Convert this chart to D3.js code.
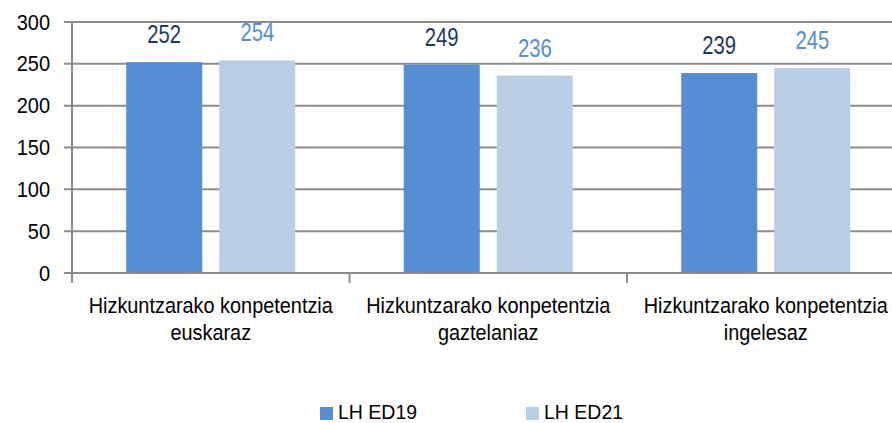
<!DOCTYPE html>
<html>
<head>
<meta charset="utf-8">
<script src="https://cdn.jsdelivr.net/npm/d3@7"></script>
<style>
  html, body { margin: 0; padding: 0; background: #fff; }
  svg { display: block; font-family: "Liberation Sans", Arial, sans-serif; }
</style>
</head>
<body>
<svg id="chart" width="892" height="423"></svg>
<script>
// Competence scores by language, two survey editions
const categories = [
  ["Hizkuntzarako konpetentzia", "euskaraz"],
  ["Hizkuntzarako konpetentzia", "gaztelaniaz"],
  ["Hizkuntzarako konpetentzia", "ingelesaz"]
];
const seriesNames = ["LH ED19", "LH ED21"];
const ed19 = [252, 249, 239];
const ed21 = [254, 236, 245];
const yTicks = [0, 50, 100, 150, 200, 250, 300];

const barColors = ["#558ed5", "#b9cde5"];
const labelColors = ["#1f3864", "#558ed5"];
const gridColor = "#8c8c8c";

const svg = d3.select("#chart");
const W = 892;

const plotLeft = 72, plotBottom = 273, plotTop = 22;
const bandW = 277.5;
const catIdx = categories.map((d, i) => i);

const x = d3.scaleBand().domain(catIdx).range([plotLeft, plotLeft + bandW * categories.length]).padding(0);
const xs = d3.scaleBand().domain(seriesNames).range([0, x.bandwidth()])
  .paddingInner(0.183).paddingOuter(0.583);
const y = d3.scaleLinear().domain([0, 300]).range([plotBottom, plotTop]);

// horizontal gridlines with left tick stubs
svg.append("g").selectAll("line").data(yTicks).join("line")
  .attr("x1", plotLeft - 8).attr("x2", W)
  .attr("y1", d => y(d)).attr("y2", d => y(d))
  .attr("stroke", gridColor).attr("stroke-width", 2);

// y tick labels
svg.append("g").selectAll("text").data(yTicks).join("text")
  .attr("text-anchor", "end")
  .attr("transform", d => `translate(50,${y(d) + 7.5}) scale(1,1.08)`)
  .attr("font-size", 20).attr("fill", "#000")
  .text(d => d);

// bars
const rows = catIdx.map(i => [ed19[i], ed21[i]]);
const groups = svg.append("g").selectAll("g").data(rows).join("g")
  .attr("transform", (d, i) => `translate(${x(i)},0)`);

groups.selectAll("rect").data(d => d.map((v, j) => ({ v, s: seriesNames[j], j })))
  .join("rect")
  .attr("x", d => xs(d.s)).attr("width", xs.bandwidth())
  .attr("y", d => y(d.v)).attr("height", d => plotBottom - y(d.v))
  .attr("fill", d => barColors[d.j]);

// value labels
groups.selectAll("text").data(d => d.map((v, j) => ({ v, s: seriesNames[j], j })))
  .join("text")
  .attr("text-anchor", "middle")
  .attr("transform", d => `translate(${xs(d.s) + xs.bandwidth() / 2},${y(d.v) - 19}) scale(0.92,1.16)`)
  .attr("font-size", 22)
  .attr("fill", d => labelColors[d.j])
  .text(d => d.v);

// y axis line and baseline drawn over bars
svg.append("line")
  .attr("x1", plotLeft).attr("x2", plotLeft).attr("y1", plotTop).attr("y2", plotBottom + 10)
  .attr("stroke", gridColor).attr("stroke-width", 2);
svg.append("line")
  .attr("x1", plotLeft - 8).attr("x2", W).attr("y1", plotBottom).attr("y2", plotBottom)
  .attr("stroke", gridColor).attr("stroke-width", 2);

// category boundary ticks
const bounds = d3.range(categories.length + 1).map(i => plotLeft + i * x.step());
svg.append("g").selectAll("line").data(bounds).join("line")
  .attr("x1", d => d).attr("x2", d => d)
  .attr("y1", plotBottom).attr("y2", plotBottom + 10)
  .attr("stroke", gridColor).attr("stroke-width", 2);

// category labels (two lines)
const cat = svg.append("g").selectAll("g").data(categories).join("g")
  .attr("transform", (d, i) => `translate(${x(i) + x.bandwidth() / 2},0)`);
cat.selectAll("text").data(d => d).join("text")
  .attr("text-anchor", "middle")
  .attr("transform", (d, k) => `translate(0,${313 + k * 27}) scale(0.97,1.08)`)
  .attr("font-size", 20.5).attr("fill", "#000")
  .text(d => d);

// legend
const legendX = [320, 526];
const lg = svg.append("g").selectAll("g").data(seriesNames).join("g")
  .attr("transform", (d, i) => `translate(${legendX[i]},407)`);
lg.append("rect").attr("width", 13).attr("height", 13)
  .attr("fill", (d, i) => barColors[i]);
lg.append("text")
  .attr("x", 18).attr("y", 12)
  .attr("font-size", 19.5).attr("fill", "#000")
  .text(d => d);
</script>
</body>
</html>
